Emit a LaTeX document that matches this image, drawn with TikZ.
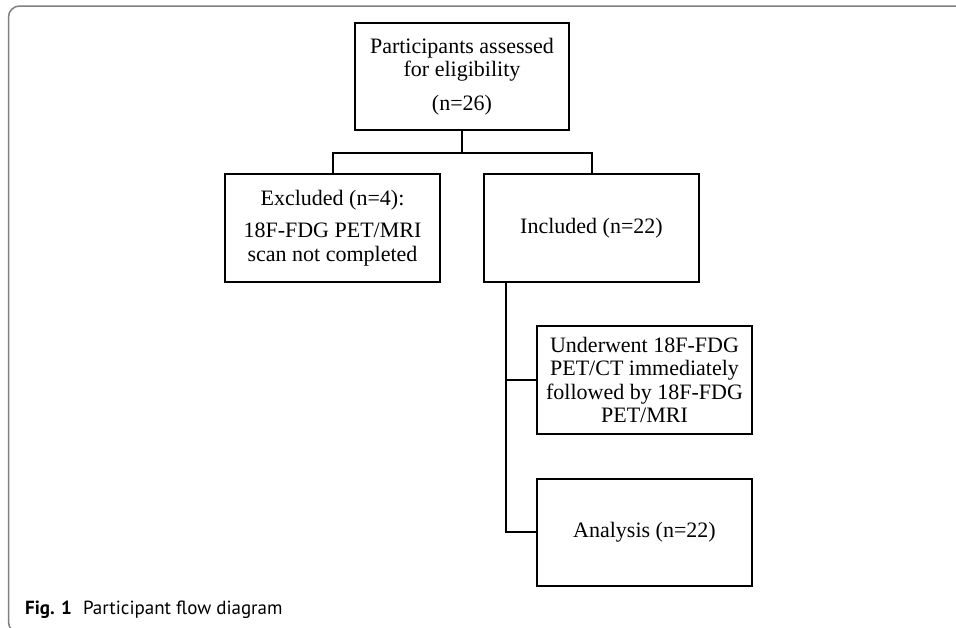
\documentclass[tikz,border=0pt]{standalone}
\usepackage{fontspec}
\setmainfont{Liberation Serif}
\newfontfamily\capfont{PT Sans}
\begin{document}
\begin{tikzpicture}[x=1pt,y=-1pt,
  flowbox/.style={draw=black,line width=2pt,inner sep=0pt,outer sep=0pt,align=center,
    font=\fontsize{22}{23.3}\selectfont},
  conn/.style={draw=black,line width=2pt}]
\useasboundingbox (0,0) rectangle (956,627);
\begin{scope}
\clip (0,0) rectangle (956,627);
\draw[draw=black!50,line width=1.5pt,rounded corners=11pt] (8.5,6) rectangle (975,633);
\end{scope}
% boxes
\node[flowbox,minimum width=214pt,minimum height=107pt] (top) at (462,76.5)
  {Participants assessed\\for eligibility\\[10pt](n=26)};
\node[flowbox,minimum width=215pt,minimum height=108pt] (excl) at (332.5,228)
  {Excluded (n=4):\\[9.4pt]18F-FDG PET/MRI\\scan not completed};
\node[flowbox,minimum width=215pt,minimum height=108pt] (incl) at (591.5,228)
  {Included (n=22)};
\node[flowbox,minimum width=215pt,minimum height=108pt] (under) at (644.5,380)
  {Underwent 18F-FDG\\PET/CT immediately\\followed by 18F-FDG\\PET/MRI};
\node[flowbox,minimum width=215pt,minimum height=107pt] (anal) at (644.5,532)
  {Analysis (n=22)};
% connectors
\coordinate (split) at (462,152.7);
\coordinate (trunk) at (505.5,282);
\draw[conn] (top.south) -- (split);
\draw[conn] (split) -| (excl.north);
\draw[conn] (split) -| (incl.north);
\draw[conn] (trunk) |- (under.west);
\draw[conn] (trunk) |- (anal.west);
% caption
\node[anchor=base west,inner sep=0pt,font=\capfont\fontsize{19}{22}\selectfont] (cap) at (25,614)
  {\textbf{Fig. 1}\hspace{11pt}Participant flow diagram};
\end{tikzpicture}
\end{document}
